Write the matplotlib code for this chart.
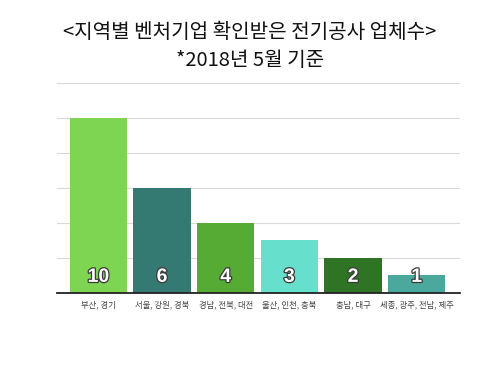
import matplotlib
matplotlib.use('Agg')
import matplotlib.pyplot as plt
import matplotlib.patheffects as pe

plt.rcParams['font.family'] = ['Noto Sans CJK KR', 'DejaVu Sans']

# 데이터
regions = ['부산, 경기', '서울, 강원, 경북', '경남, 전북, 대전', '울산, 인천, 충북', '충남, 대구', '세종, 광주, 전남, 제주']
counts = [10, 6, 4, 3, 2, 1]
colors = ['#7ed552', '#357a72', '#56ab34', '#66e0cc', '#2e7424', '#4aa89c']

fig = plt.figure(figsize=(5, 3.75), dpi=100)
ax = fig.add_axes([0.114, 0.219, 0.806, 0.56])

x = range(len(regions))
ax.bar(x, counts, width=0.9, color=colors, zorder=2)

# 막대 안 숫자
for i, v in enumerate(counts):
    ax.text(i, 0.4, str(v), ha='center', va='bottom', fontsize=14, fontweight='bold', color='white',
            family=['Liberation Sans', 'DejaVu Sans'],
            path_effects=[pe.withStroke(linewidth=1.8, foreground='#3a3a3a')], zorder=3)

ax.set_xlim(-0.65, 5.68)
ax.set_ylim(0, 12)
ax.set_yticks(range(0, 13, 2))
ax.yaxis.grid(True, color='#d9d9d9', linewidth=0.8, zorder=0)
ax.tick_params(axis='y', left=False, labelleft=False)
ax.tick_params(axis='x', bottom=False, labelsize=6, colors='#444444', pad=2)
ax.set_xticks(list(x))
ax.set_xticklabels(regions)
for s in ['top', 'right', 'left']:
    ax.spines[s].set_visible(False)
ax.spines['bottom'].set_color('#222222')
ax.spines['bottom'].set_linewidth(1.3)
ax.spines['bottom'].set_zorder(4)

fig.text(0.5, 0.912, '<지역별 벤처기업 확인받은 전기공사 업체수>', ha='center', va='center', fontsize=14.5, color='#111111')
fig.text(0.5, 0.84, '*2018년 5월 기준', ha='center', va='center', fontsize=14.5, color='#111111')

plt.savefig('out.png', dpi=100)
